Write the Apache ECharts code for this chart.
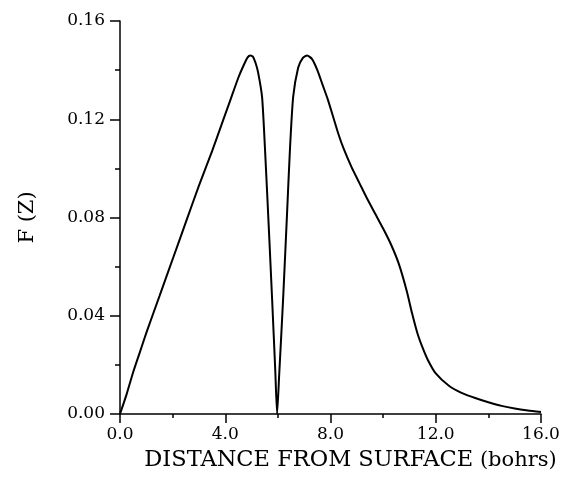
<!DOCTYPE html>
<html>
<head>
<meta charset="utf-8">
<script src="https://cdn.jsdelivr.net/npm/echarts@6/dist/echarts.min.js"></script>
<style>
  html, body { margin: 0; padding: 0; background: #fff; }
  #grafico { width: 563px; height: 477px; }
</style>
</head>
<body>
<div id="grafico"></div>
<script>
const distancia = [0, 0.25, 0.5, 0.75, 1.0, 1.5, 2.0, 2.5, 3.0, 3.5, 3.9, 4.2, 4.5, 4.7, 4.85, 4.95,
  5.05, 5.15, 5.25, 5.4, 5.51, 5.65, 5.78, 5.9, 5.97, 6.05, 6.2, 6.35, 6.46, 6.58, 6.77, 6.95, 7.11,
  7.3, 7.5, 7.7, 7.9, 8.1, 8.3, 8.5, 8.8, 9.1, 9.4, 9.7, 10.0, 10.3, 10.6, 10.9, 11.1, 11.3, 11.5,
  11.7, 12.0, 12.5, 13.0, 13.5, 14.0, 14.5, 15.0, 15.5, 16.0];
const valoresF = [0, 0.008, 0.017, 0.025, 0.033, 0.048, 0.063, 0.078, 0.093, 0.107, 0.119, 0.128, 0.137, 0.142, 0.1452, 0.146,
  0.1455, 0.143, 0.139, 0.129, 0.108, 0.077, 0.047, 0.018, 0, 0.016, 0.047, 0.082, 0.108, 0.129, 0.141, 0.145, 0.146,
  0.1445, 0.140, 0.134, 0.128, 0.121, 0.114, 0.108, 0.1005, 0.094, 0.0875, 0.0815, 0.0755, 0.069, 0.061, 0.050, 0.041, 0.033, 0.027,
  0.022, 0.0165, 0.0115, 0.0085, 0.0065, 0.0048, 0.0033, 0.0022, 0.0014, 0.0008];

const etiquetasX = ['0.0', '4.0', '8.0', '12.0', '16.0'];
const etiquetasY = ['0.00', '0.04', '0.08', '0.12', '0.16'];

let grafico = echarts.init(document.getElementById('grafico'));

grafico.setOption({
    animation: false,
    grid: { left: 120, right: 22, top: 21, bottom: 60 },
    xAxis: {
        type: 'value',
        min: 0, max: 16, interval: 4,
        name: '{a|DISTANCE FROM SURFACE}  {b|(bohrs)}',
        nameLocation: 'middle',
        nameGap: 35,
        nameTextStyle: {
            padding: [0, 0, 0, 40],
            rich: {
                a: { fontFamily: 'DejaVu Serif', fontSize: 22.5, color: '#000' },
                b: { fontFamily: 'DejaVu Serif', fontSize: 21, color: '#000' }
            }
        },
        axisLine: { lineStyle: { color: '#000', width: 1.5 } },
        axisTick: { length: 9, lineStyle: { color: '#000', width: 1.5 } },
        minorTick: { show: true, splitNumber: 2, length: 4, lineStyle: { color: '#000', width: 1.5 } },
        splitLine: { show: false },
        axisLabel: {
            margin: 12,
            fontFamily: 'DejaVu Serif', fontSize: 17, color: '#000',
            formatter: v => etiquetasX[v / 4]
        }
    },
    yAxis: {
        type: 'value',
        min: 0, max: 0.16, interval: 0.04,
        name: 'F (Z)',
        nameLocation: 'middle',
        nameGap: 82,
        nameRotate: 90,
        nameTextStyle: { fontFamily: 'DejaVu Serif', fontSize: 21, color: '#000' },
        axisLine: { show: true, lineStyle: { color: '#000', width: 1.5 } },
        axisTick: { show: true, length: 10, lineStyle: { color: '#000', width: 1.5 } },
        minorTick: { show: true, splitNumber: 2, length: 5, lineStyle: { color: '#000', width: 1.5 } },
        splitLine: { show: false },
        axisLabel: {
            margin: 15,
            fontFamily: 'DejaVu Serif', fontSize: 17, color: '#000',
            formatter: v => etiquetasY[Math.round(v / 0.04)]
        }
    },
    series: [{
        type: 'line',
        data: distancia.map((x, i) => [x, valoresF[i]]),
        showSymbol: false,
        smooth: 0.2,
        lineStyle: { color: '#000', width: 2 }
    }]
});
</script>
</body>
</html>
